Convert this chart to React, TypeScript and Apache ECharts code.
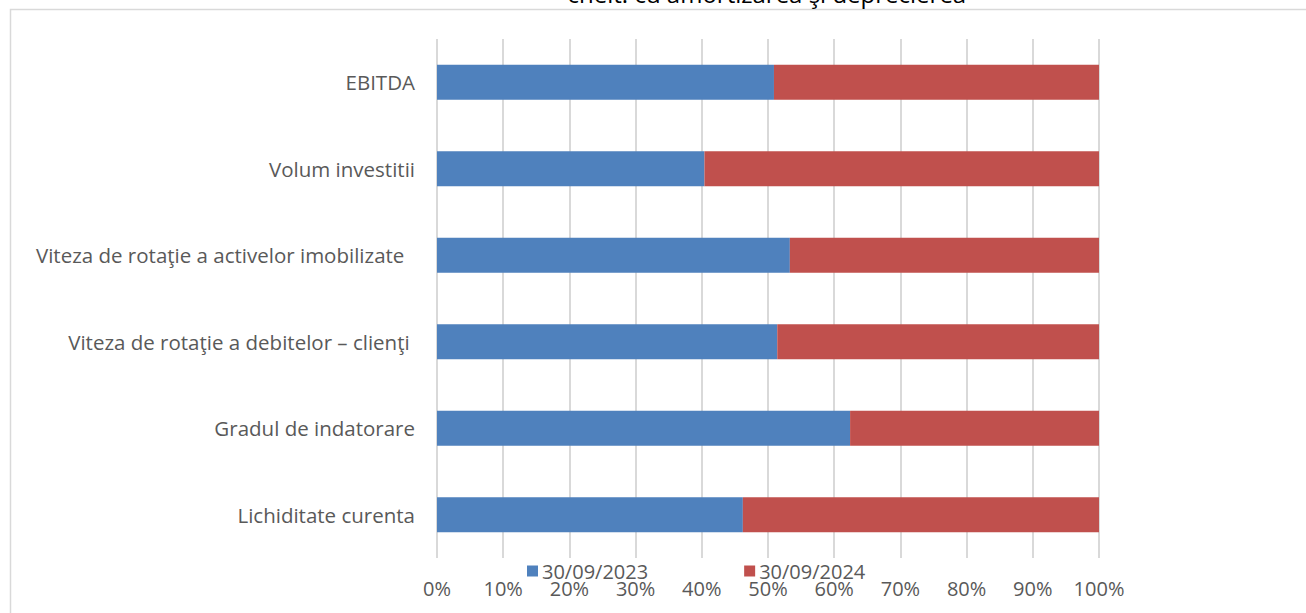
import React, { useEffect, useRef } from "react";
import * as echarts from "echarts";

const categories = [
  "Lichiditate curenta",
  "Gradul de indatorare",
  "Viteza de rotaţie a debitelor – clienţi ",
  "Viteza de rotaţie a activelor imobilizate  ",
  "Volum investitii",
  "EBITDA",
];
const series2023 = [46.2, 62.4, 51.4, 53.3, 40.4, 50.9];
const series2024 = [53.8, 37.6, 48.6, 46.7, 59.6, 49.1];
const seriesNames = ["30/09/2023", "30/09/2024"];
const topNote = "-chelt. cu amortizarea şi deprecierea";

const FONT = "'Open Sans', 'Noto Sans', sans-serif";
const GREY = "#595959";

export default function App() {
  const ref = useRef<HTMLDivElement>(null);
  useEffect(() => {
    if (!ref.current) return;
    const chart = echarts.init(ref.current, undefined, { renderer: "svg" });
    chart.setOption({
      animation: false,
      backgroundColor: "#ffffff",
      textStyle: { fontFamily: FONT },
      graphic: [
        {
          type: "rect",
          shape: { x: 10.5, y: 9.5, width: 1400, height: 700 },
          style: { fill: "none", stroke: "#d9d9d9", lineWidth: 1.5 },
          silent: true,
        },
        {
          type: "text",
          x: 763,
          y: 5,
          style: {
            text: topNote,
            fill: "#000000",
            font: `24px ${FONT}`,
            textAlign: "center",
            textVerticalAlign: "bottom",
          },
        },
      ],
      legend: {
        data: seriesNames,
        left: 522,
        top: 556,
        itemWidth: 11,
        itemHeight: 11,
        itemGap: 96,
        icon: "rect",
        textStyle: { color: GREY, fontSize: 20, fontFamily: FONT, padding: [0, 0, 0, -1] },
      },
      grid: { left: 437, right: 207, top: 39, height: 519, containLabel: false },
      xAxis: {
        type: "value",
        min: 0,
        max: 100,
        interval: 10,
        axisLine: { show: false },
        axisTick: { show: false },
        splitLine: { show: true, lineStyle: { color: "#d9d9d9", width: 2 } },
        axisLabel: {
          formatter: "{value}%",
          color: GREY,
          fontSize: 20,
          fontFamily: FONT,
          margin: 20,
        },
      },
      yAxis: {
        type: "category",
        data: categories,
        axisLine: { show: false },
        axisTick: { show: false },
        axisLabel: {
          color: GREY,
          fontSize: 20.5,
          fontFamily: FONT,
          margin: 22,
        },
      },
      series: [
        {
          name: seriesNames[0],
          type: "bar",
          stack: "total",
          data: series2023,
          barWidth: 35,
          itemStyle: { color: "#4f81bd" },
        },
        {
          name: seriesNames[1],
          type: "bar",
          stack: "total",
          data: series2024,
          barWidth: 35,
          itemStyle: { color: "#c0504d" },
        },
      ],
    });
    return () => chart.dispose();
  }, []);
  return (
    <div
      ref={ref}
      style={{ width: 1306, height: 613, position: "absolute", left: 0, top: 0 }}
    />
  );
}
